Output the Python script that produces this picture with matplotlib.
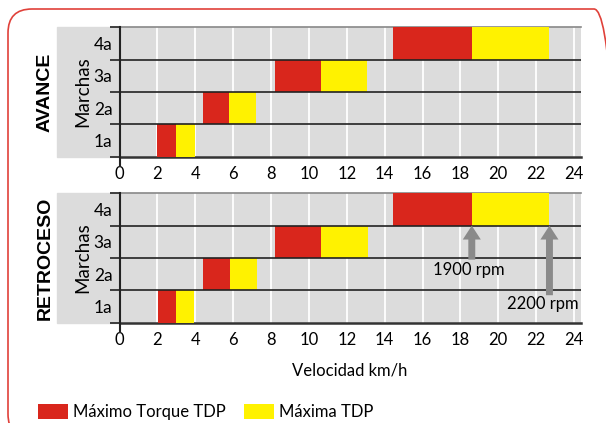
import numpy as np
import matplotlib.pyplot as plt
from matplotlib.patches import Rectangle, FancyBboxPatch, Patch
from matplotlib.transforms import IdentityTransform

plt.rcParams['font.family'] = ['Lato', 'DejaVu Sans']

marchas = ['1a', '2a', '3a', '4a']

# velocidades (km/h): inicio torque max, 1900 rpm, 2200 rpm
avance_ini = [2.0, 4.4, 8.2, 14.45]
avance_1900 = [3.0, 5.8, 10.65, 18.6]
avance_2200 = [4.0, 7.2, 13.05, 22.7]

retro_ini = [2.05, 4.4, 8.2, 14.45]
retro_1900 = [3.0, 5.85, 10.65, 18.6]
retro_2200 = [3.95, 7.25, 13.1, 22.7]

RED = '#d9261c'
YELLOW = '#fff200'
BG = '#dcdcdc'
W, H = 606, 423

fig = plt.figure(figsize=(6.06, 4.23), dpi=100)

# marco rojo redondeado (en pixeles)
fig.patches.append(FancyBboxPatch((8, -15), 610, 429,
                                  boxstyle='round,pad=0,rounding_size=24',
                                  transform=IdentityTransform(), fill=False,
                                  edgecolor='#e0413a', lw=1.2, zorder=-2))


def panel(top, ini, mid, fin, titulo):
    left, right, bottom = 119.5, 580.7, top + 129.4
    ax = fig.add_axes([left / W, 1 - bottom / H, (right - left) / W, 129.4 / H])
    # fondo gris detras de las etiquetas
    fig.patches.append(Rectangle((57 / W, 1 - bottom / H), (left - 57) / W, 129.4 / H,
                                 transform=fig.transFigure, color=BG, zorder=-1))
    ax.set_facecolor(BG)
    y = np.arange(1, 5)
    ini = np.array(ini)
    mid = np.array(mid)
    fin = np.array(fin)
    ax.barh(y, mid - ini, left=ini, height=1.0, color=RED, zorder=3)
    ax.barh(y, fin - mid, left=mid, height=1.0, color=YELLOW, zorder=3)
    ax.set_xlim(0, 24.35)
    ax.set_ylim(0.5, 4.5)
    ax.set_xticks(range(0, 25, 2))
    for xv in range(2, 25, 2):
        ax.axvline(xv, color='white', lw=1.3, zorder=1)
    for yv in [1.5, 2.5, 3.5]:
        ax.axhline(yv, color='#222222', lw=1.2, zorder=4)
    ax.axvline(0, ymin=-0.07, ymax=1, color='#222222', lw=1.5, clip_on=False, zorder=5)
    ax.set_yticks(y)
    ax.set_yticklabels(marchas)
    ax.set_yticks([0.5, 1.5, 2.5, 3.5, 4.5], minor=True)
    ax.tick_params(axis='y', which='major', length=0, pad=5, labelsize=12.5)
    ax.tick_params(axis='y', which='minor', length=7, width=1.2, color='#222222')
    ax.tick_params(axis='x', length=0, pad=7, labelsize=12)
    for s in ['left', 'right']:
        ax.spines[s].set_visible(False)
    ax.spines['top'].set_color('#888888')
    ax.spines['top'].set_linewidth(1.2)
    ax.spines['bottom'].set_color('#333333')
    ax.spines['bottom'].set_linewidth(1.8)
    ax.set_ylabel('Marchas', fontsize=13.5)
    ax.yaxis.set_label_coords(-0.062, 0.5)
    fig.text(45 / W, 1 - (top + 64.7) / H, titulo, rotation=90, ha='center', va='center',
             fontsize=14, fontweight='bold', family=['Liberation Sans', 'DejaVu Sans'])
    return ax


ax1 = panel(27.3, avance_ini, avance_1900, avance_2200, 'AVANCE')
ax2 = panel(193.3, retro_ini, retro_1900, retro_2200, 'RETROCESO')

ax2.set_xlabel('Velocidad km/h', fontsize=12, labelpad=10)

flecha = dict(facecolor='#8a8a8a', edgecolor='none', width=5, headwidth=13, headlength=10)
ax2.annotate('', xy=(retro_1900[3], 3.5), xytext=(retro_1900[3], 2.45),
             arrowprops=flecha, zorder=6)
ax2.annotate('', xy=(retro_2200[3], 3.5), xytext=(retro_2200[3], 1.35),
             arrowprops=flecha, zorder=6)
ax2.text(18.45, 2.14, '1900 rpm', ha='center', va='center', fontsize=12, zorder=6)
ax2.text(22.35, 1.08, '2200 rpm', ha='center', va='center', fontsize=12, zorder=6)

handles = [Patch(facecolor=RED, label='Máximo Torque TDP'),
           Patch(facecolor=YELLOW, label='Máxima TDP')]
fig.legend(handles=handles, loc='lower left', bbox_to_anchor=(38 / W, 3 / H), ncol=2,
           frameon=False, fontsize=12, handlelength=1.8, handleheight=1.0,
           handletextpad=0.3, columnspacing=1.1, borderpad=0, borderaxespad=0)

fig.savefig('out.png', dpi=100)
